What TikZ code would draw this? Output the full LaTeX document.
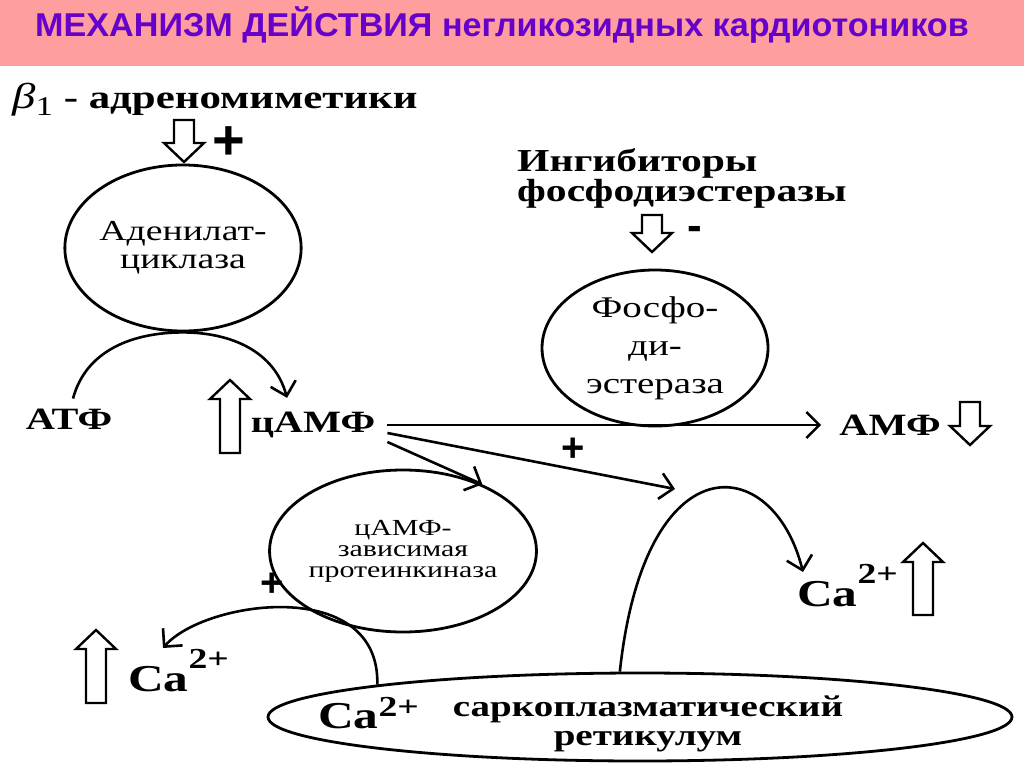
\documentclass[tikz,border=0pt]{standalone}
\usepackage{fontspec}
\setmainfont[FakeStretch=1.3]{Liberation Serif}
\newfontfamily\headfont{Liberation Sans}
\newfontfamily\titlefont[FakeStretch=1.035]{Liberation Sans}
\usetikzlibrary{shapes.geometric, arrows.meta, positioning, calc}
\definecolor{headpink}{RGB}{255,158,158}
\definecolor{headviolet}{RGB}{102,0,204}
\newcommand{\caion}[1][0.6em]{Ca\raisebox{#1}{\fontsize{29}{29}\selectfont 2+}}

\begin{document}
\begin{tikzpicture}[
        x=1pt, y=-1pt,
        % Define styles for the different parts
        head/.style={font=\titlefont\bfseries\fontsize{33}{36}\selectfont, text=headviolet, inner sep=0},
        lbl/.style={font=\bfseries\fontsize{31}{34}\selectfont, inner sep=0},
        ion/.style={font=\bfseries\fontsize{38}{38}\selectfont, inner sep=0, anchor=base west},
        enzyme/.style={ellipse, draw, line width=2.8pt, inner sep=0, align=center},
        sign/.style={font=\headfont\bfseries\fontsize{40}{40}\selectfont, inner sep=0},
        line/.style={draw, line width=2.6pt, -{Straight Barb[length=13pt, width=26pt]}},
        hollow/.style={draw, line width=2.4pt, fill=white, line join=miter},
        pics/blockarrow/.style={code={
            \draw[hollow] (-10,0) -- (-10,{-(#1-19)}) -- (-20,{-(#1-19)}) -- (0,-#1)
                -- (20,{-(#1-19)}) -- (10,{-(#1-19)}) -- (10,0) -- cycle;}}
    ]
    \useasboundingbox (0,0) rectangle (1024,767);

    % --- Header ---
    \fill[headpink] (0,0) rectangle (1024,66);
    \node[head] (title) at (502,25) {МЕХАНИЗМ ДЕЙСТВИЯ негликозидных кардиотоников};

    % --- Nodes ---
    % Adenylate cyclase branch
    \node[lbl, anchor=base west, font=\bfseries\fontsize{33}{33}\selectfont] (agonist) at (12,109)
        {{\mdseries\itshape\fontsize{36}{36}\selectfont β}{\mdseries\fontsize{27}{27}\selectfont\raisebox{-7pt}{1}} - адреномиметики};
    \node[sign, font=\headfont\bfseries\fontsize{56}{56}\selectfont] (plusB) at (229,143) {+};
    \node[enzyme, minimum width=230, minimum height=166, font=\fontsize{29}{28}\selectfont] (ac) at (183,248) {Аденилат-\\циклаза};
    \node[lbl] (atf) at (69,419) {АТФ};
    \node[lbl] (camp) at (313,425) {цАМФ};

    % Phosphodiesterase branch
    \node[lbl, align=left, anchor=north west, font=\bfseries\fontsize{32}{30}\selectfont] (inhib) at (517,148) {Ингибиторы\\фосфодиэстеразы};
    \node[sign, font=\headfont\bfseries\fontsize{44}{44}\selectfont] (minus) at (695,233) {-};
    \node[enzyme, minimum width=226, minimum height=156, font=\fontsize{30}{38}\selectfont] (pde) at (655,348) {Фосфо-\\ди-\\эстераза};
    \node[lbl] (amp) at (890,425) {АМФ};
    \node[sign] (plusC) at (573,450) {+};

    % Protein kinase and calcium
    \node[enzyme, minimum width=230, minimum height=162, font=\fontsize{23}{21}\selectfont] (pk) at (403,551) {цАМФ-\\зависимая\\протеинкиназа};
    \node[sign] (plusK) at (272,585) {+};
    \node[ion] (caL) at (128,691) {\caion};
    \node[ion] (caR) at (797,606) {\caion};

    % Sarcoplasmic reticulum
    \node[enzyme, minimum width=744, minimum height=88] (sr) at (640,717) {};
    \node[ion] (srCa) at (318,728) {\caion[0.3em]};
    \node[lbl, align=center, font=\bfseries\fontsize{30}{29}\selectfont] (srname) at (648,724) {саркоплазматический\\ретикулум};

    \coordinate (release) at (675,489);
    \coordinate (caLtip) at (163,648);
    \coordinate (caRtip) at (803,572);

    % --- Hollow arrows ---
    \pic[rotate=180] at (184,120) {blockarrow=42};
    \pic at (230,453) {blockarrow=73};
    \pic[rotate=180] at (652,215) {blockarrow=37};
    \pic[rotate=180] at (970,402) {blockarrow=43};
    \pic at (96,703) {blockarrow=73};
    \pic at (923,615) {blockarrow=72};

    % --- Edges (Arrows) ---
    \draw[line] ([xshift=4pt,yshift=10pt]atf.north) to[out=75,in=180] (ac.south)
        to[out=0,in=105] ([xshift=-26pt,yshift=14pt]camp.north);
    \draw[line] ([xshift=12pt]camp.east) -- ([xshift=-18pt]amp.west);
    \draw[line] ([xshift=12pt,yshift=-8pt]camp.east) -- (release);
    \draw[line] ([xshift=12pt,yshift=-17pt]camp.east) -- (pk.40);

    % Calcium release from the reticulum
    \draw[line] (sr.114) .. controls +(25,-232) and +(-30,-120) .. (caRtip);
    \draw[line] (sr.173) .. controls +(3,-109) and +(42,-48) .. (caLtip);

\end{tikzpicture}
\end{document}
